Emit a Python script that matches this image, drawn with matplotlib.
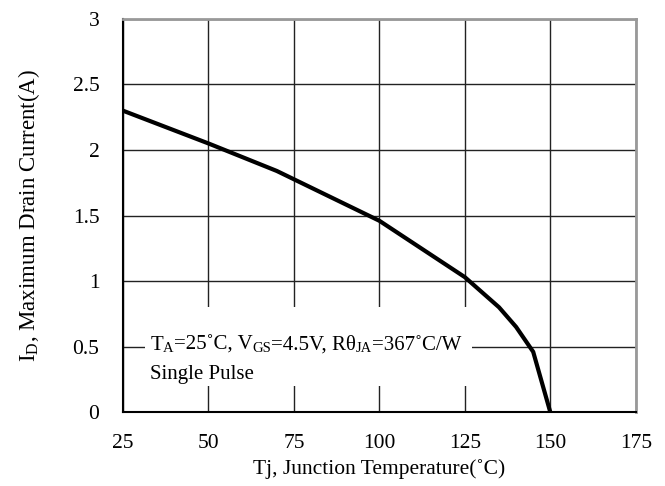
import matplotlib
matplotlib.use('Agg')
import matplotlib.pyplot as plt

# junction temperature (C) vs max drain current (A)
temp = [25, 50, 70, 100, 125, 135, 140, 145, 150]
current = [2.30, 2.05, 1.84, 1.46, 1.03, 0.80, 0.65, 0.46, 0.0]

xticks = [25, 50, 75, 100, 125, 150, 175]
yticks = [0, 0.5, 1, 1.5, 2, 2.5, 3]
ytick_labels = ['0', '0.5', '1', '1.5', '2', '2.5', '3']

plt.rcParams['font.family'] = ['Liberation Serif', 'DejaVu Serif']
plt.rcParams['mathtext.fontset'] = 'custom'
plt.rcParams['mathtext.rm'] = 'Liberation Serif'

fs = 15.5
fs_note = 15
fs_sub = 10.5

fig = plt.figure(figsize=(6.65, 4.86), dpi=100)
ax = fig.add_axes([0.185, 0.152, 0.771, 0.809])

ax.plot(temp, current, color='black', lw=3, solid_joinstyle='miter', zorder=3)

ax.set_xlim(25, 175)
ax.set_ylim(0, 3)
ax.set_xticks(xticks)
ax.set_yticks(yticks)
ax.set_yticklabels(ytick_labels)
ax.grid(True, color='#222222', lw=1.0)
ax.tick_params(length=0, labelsize=fs)
ax.tick_params(axis='x', pad=16)
ax.tick_params(axis='y', pad=17)

for s in ['left', 'bottom']:
    ax.spines[s].set_color('black')
    ax.spines[s].set_linewidth(1.5)
for s in ['top', 'right']:
    ax.spines[s].set_color('#999999')
    ax.spines[s].set_linewidth(2)

ax.set_xlabel('Tj, Junction Temperature(\u02daC)', fontsize=fs, labelpad=4)
ax.set_ylabel(r'I$_\mathregular{D}$, Maximum Drain Current(A)', fontsize=16.5, labelpad=22)

# condition box: white patch hiding the grid, text pieces chained so the
# small subscripts sit on the baseline
ax.add_patch(plt.Rectangle((31.5, 0.2), 95.5, 0.6, facecolor='white',
                           edgecolor='none', zorder=2))

pieces = [('T', fs_note), ('A', fs_sub), ('=25\u02daC, V', fs_note), ('GS', fs_sub),
          ('=4.5V, R\u03b8', fs_note), ('JA', fs_sub), ('=367\u02daC/W', fs_note)]
prev = ax.text(33, 0.51, pieces[0][0], fontsize=pieces[0][1], va='center',
               ha='left', zorder=4)
for txt, size in pieces[1:]:
    prev = ax.annotate(txt, xy=(1, 0), xycoords=prev, fontsize=size,
                       va='bottom', ha='left', zorder=4)
ax.text(33, 0.29, 'Single Pulse', fontsize=fs_note, va='center', ha='left', zorder=4)

fig.savefig('out.png', dpi=100)
